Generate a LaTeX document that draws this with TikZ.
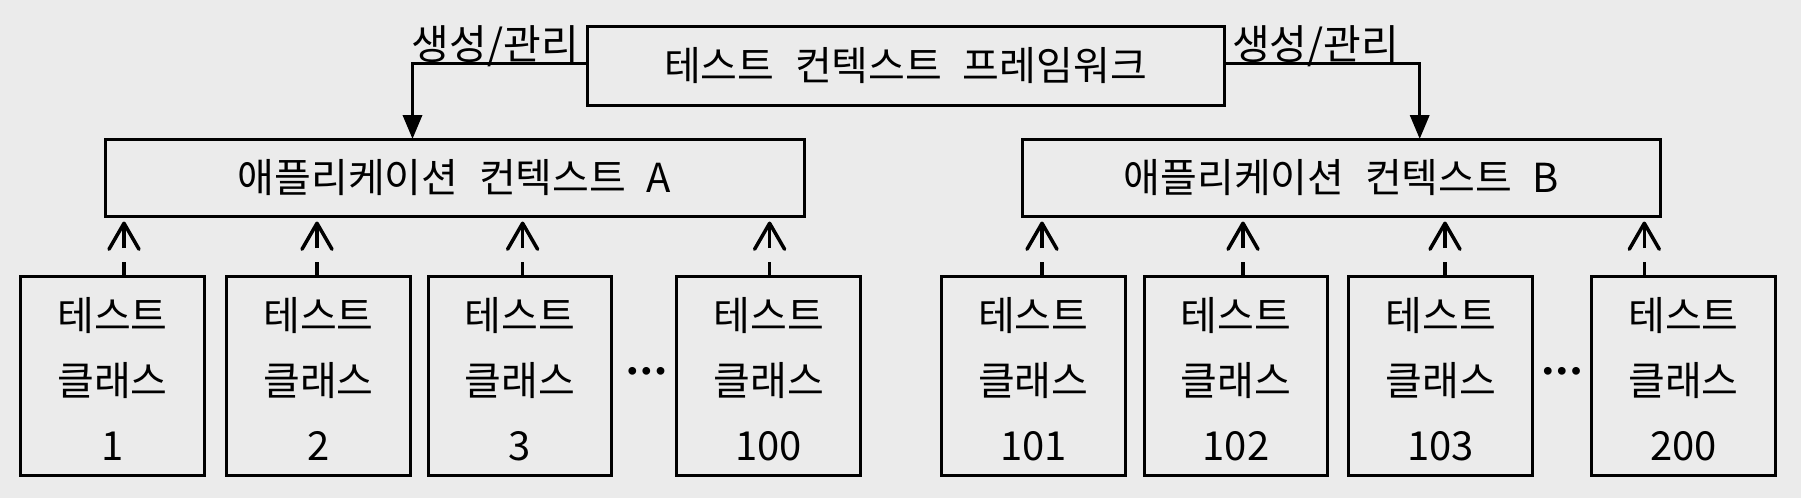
\documentclass[tikz,border=0pt]{standalone}
\usepackage{fontspec}
\newfontfamily\kr[WordSpace=2.3]{Noto Sans CJK KR}
\newfontfamily\dv{DejaVu Sans}
\usetikzlibrary{arrows.meta}
\definecolor{bg}{RGB}{235,235,235}
\begin{document}
\begin{tikzpicture}[x=1pt,y=-1pt,
  box/.style={draw, line width=3pt, inner sep=0pt, outer sep=0pt, align=center,
    font=\kr\fontsize{40}{65}\selectfont},
  cls/.style={box, minimum width=183.6pt, minimum height=199pt},
  clstext/.style={inner sep=0pt, align=center, yshift=-3.5pt,
    font=\kr\fontsize{40}{65}\selectfont},
  conn/.style={line width=3.5pt, -{Triangle[length=24pt,width=19pt]}},
  dep/.style={line width=3.5pt, dash pattern=on 14pt off 14pt on 100pt off 0pt,
    -{Straight Barb[length=26pt,width=30pt,round]}, shorten >=5.5pt},
  lbl/.style={font=\kr\fontsize{41}{48}\selectfont, inner sep=0pt},
  dots/.style={font=\dv\bfseries\fontsize{22}{22}\selectfont, inner sep=0pt}]
\fill[bg] (0,0) rectangle (1801,498);
\useasboundingbox (0,0) rectangle (1801,498);

\node[box, minimum width=637pt, minimum height=79pt] (top) at (905.5,65.5) {테스트 컨텍스트 프레임워크};
\node[box, minimum width=699pt, minimum height=77pt] (A) at (454.5,177.5) {애플리케이션 컨텍스트 A};
\node[box, minimum width=638.7pt, minimum height=77pt] (B) at (1341.35,177.5) {애플리케이션 컨텍스트 B};

\node[lbl, anchor=base east] (l1) at (579,59) {생성/관리};
\node[lbl, anchor=base west] (l2) at (1232,59) {생성/관리};

\draw[conn] ([yshift=1.8pt]top.west) -| ([xshift=-42pt]A.north);
\draw[conn] ([yshift=1.8pt]top.east) -| ([xshift=78.35pt]B.north);

\node[cls, label={[clstext]center:테스트\\클래스\\1}] (c1) at (112.5,375.5) {};
\node[cls, label={[clstext]center:테스트\\클래스\\2}] (c2) at (318.4,375.5) {};
\node[cls, label={[clstext]center:테스트\\클래스\\3}] (c3) at (519.9,375.5) {};
\node[cls, label={[clstext]center:테스트\\클래스\\100}] (c100) at (768.7,375.5) {};
\node[cls, label={[clstext]center:테스트\\클래스\\101}] (c101) at (1033.3,375.5) {};
\node[cls, label={[clstext]center:테스트\\클래스\\102}] (c102) at (1236,375.5) {};
\node[cls, label={[clstext]center:테스트\\클래스\\103}] (c103) at (1440.6,375.5) {};
\node[cls, label={[clstext]center:테스트\\클래스\\200}] (c200) at (1683.5,375.5) {};

\node[dots] (d1) at (646.5,373.3) {•••};
\node[dots] (d2) at (1562,373.3) {•••};

\draw[dep] ([xshift=11.5pt]c1.north) -- ([xshift=11.5pt]c1.north |- A.south);
\draw[dep] ([xshift=-1.4pt]c2.north) -- ([xshift=-1.4pt]c2.north |- A.south);
\draw[dep] ([xshift=2.7pt]c3.north) -- ([xshift=2.7pt]c3.north |- A.south);
\draw[dep] ([xshift=0.9pt]c100.north) -- ([xshift=0.9pt]c100.north |- A.south);
\draw[dep] ([xshift=8.7pt]c101.north) -- ([xshift=8.7pt]c101.north |- B.south);
\draw[dep] ([xshift=7pt]c102.north) -- ([xshift=7pt]c102.north |- B.south);
\draw[dep] ([xshift=4.4pt]c103.north) -- ([xshift=4.4pt]c103.north |- B.south);
\draw[dep] ([xshift=-39.2pt]c200.north) -- ([xshift=-39.2pt]c200.north |- B.south);
\end{tikzpicture}
\end{document}
